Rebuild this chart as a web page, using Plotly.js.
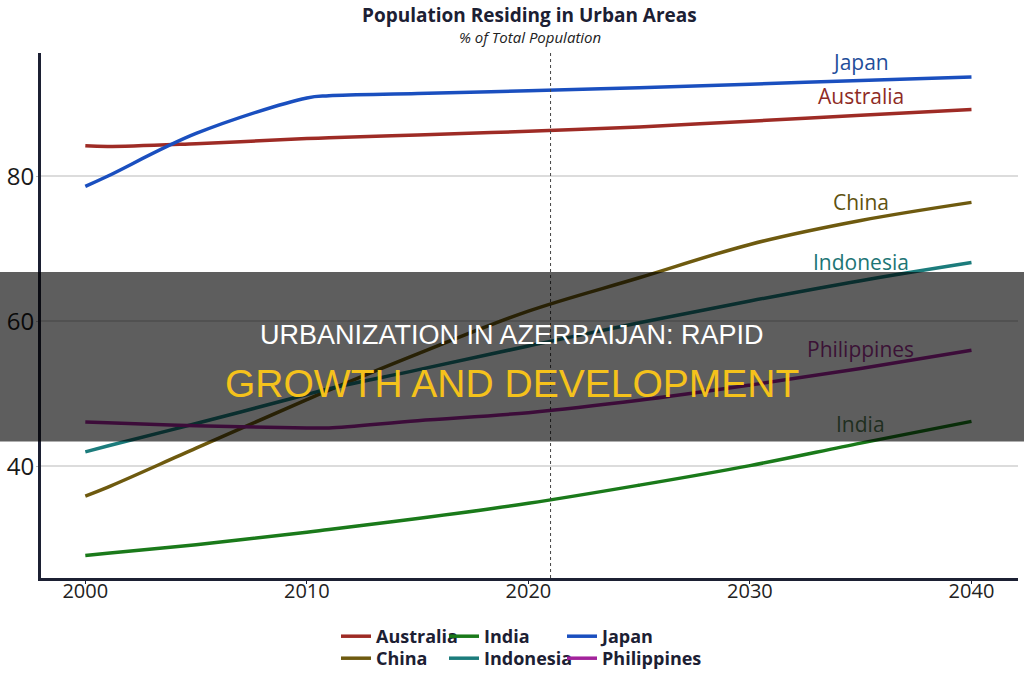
<!DOCTYPE html>
<html>
<head>
<meta charset="utf-8">
<script src="https://cdn.plot.ly/plotly-3.0.1.min.js"></script>
<style>
html,body{margin:0;padding:0;background:#fff;}
#chart{width:1024px;height:682px;}
</style>
</head>
<body>
<div id="chart"></div>
<script>
// ---- data ----
const years       = [2000, 2001, 2005, 2010, 2011, 2015, 2020, 2025, 2030, 2035, 2040];
const australia   = [84.2, 84.1, 84.5, 85.2, 85.3, 85.7, 86.2, 86.8, 87.6, 88.4, 89.2];
const china       = [35.9, 37.1, 42.5, 49.2, 50.5, 55.5, 61.4, 66.0, 70.6, 73.9, 76.4];
const india       = [27.7, 28.0, 29.2, 30.9, 31.3, 32.8, 34.9, 37.4, 40.1, 43.2, 46.2];
const indonesia   = [42.0, 42.8, 45.9, 49.9, 50.7, 53.3, 56.6, 59.8, 62.8, 65.6, 68.1];
const japan       = [78.6, 80.0, 85.9, 90.8, 91.1, 91.4, 91.8, 92.2, 92.7, 93.2, 93.7];
const philippines = [46.1, 46.0, 45.6, 45.3, 45.3, 46.3, 47.4, 49.1, 51.2, 53.5, 56.0];
const countries   = ["Australia", "China", "India", "Indonesia", "Japan", "Philippines"];
const tickYears   = [2000, 2010, 2020, 2030, 2040];
const tickValues  = [40, 60, 80];
const currentYear = 2021;
const labelYear   = 2035;
const chartTitle  = "Population Residing in Urban Areas";
const chartSubtitle = "% of Total Population";
const bannerLine1 = "URBANIZATION IN AZERBAIJAN: RAPID";
const bannerLine2 = "GROWTH AND DEVELOPMENT";

// ---- styles ----
const seriesList = [australia, china, india, indonesia, japan, philippines];
const lineColors  = ["#9e2b25", "#6e5a0f", "#1a7a1a", "#1c7c7c", "#1a4fbf", "#a3239b"];
const labelColors = ["#8e2b25", "#5e5210", "#1f2e1f", "#1d7575", "#1f4e9a", "#3b1236"];
const legendIds   = ["legend", "legend4", "legend2", "legend5", "legend3", "legend6"];
const navy = "#1c2033";

const traces = countries.map((name, i) => ({
  type: "scatter",
  mode: "lines",
  name: name,
  x: years,
  y: seriesList[i],
  line: {color: lineColors[i], width: 3.5, shape: "spline", smoothing: 1.0},
  legend: legendIds[i],
  hoverinfo: "x+y+name"
}));

const li = years.indexOf(labelYear);
const labelAnns = countries.map((name, i) => ({
  x: labelYear, y: seriesList[i][li], xref: "x", yref: "y",
  text: name, showarrow: false, yshift: 19,
  xanchor: "center", yanchor: "middle",
  font: {family: "Open Sans, Noto Sans, sans-serif", size: 21, color: labelColors[i]}
}));

const legendBase = {
  orientation: "v", xanchor: "left", yanchor: "top",
  font: {family: "Open Sans, Noto Sans, sans-serif", size: 18, color: navy, weight: 700},
  bgcolor: "rgba(0,0,0,0)", itemwidth: 30
};
function leg(px, py) {
  return Object.assign({}, legendBase, {x: (px - 41) / 977, y: (578 - py) / 525});
}

const layout = {
  width: 1024, height: 682,
  margin: {l: 41, r: 6, t: 53, b: 104, autoexpand: false},
  paper_bgcolor: "#ffffff", plot_bgcolor: "#ffffff",
  showlegend: true,
  xaxis: {
    range: [1998, 2042.1], tickvals: tickYears, ticktext: tickYears.map(String),
    showgrid: false, zeroline: false, showline: true, linecolor: navy, linewidth: 3,
    ticks: "outside", ticklen: 3, tickcolor: navy, ticklabelstandoff: -10,
    tickfont: {family: "Open Sans, Noto Sans, sans-serif", size: 20, color: "#222"}
  },
  yaxis: {
    range: [24.6, 97.0], tickvals: tickValues,
    showgrid: true, gridcolor: "#dcdcdc", gridwidth: 2, zeroline: false,
    showline: true, linecolor: navy, linewidth: 3,
    ticks: "outside", ticklen: 2, tickcolor: "#bbbbbb", ticklabelstandoff: -3,
    tickfont: {family: "Open Sans, Noto Sans, sans-serif", size: 24, color: "#1a1a1a"}
  },
  legend:  leg(336, 618),
  legend2: leg(444, 618),
  legend3: leg(562, 618),
  legend4: leg(336, 640),
  legend5: leg(444, 640),
  legend6: leg(562, 640),
  shapes: [
    {type: "line", xref: "x", yref: "paper", x0: currentYear, x1: currentYear, y0: 0, y1: 1,
     line: {color: "#444", width: 1, dash: "dot"}, layer: "above"},
    {type: "rect", xref: "paper", yref: "paper", x0: -0.1, x1: 1.1,
     y0: (578 - 441.5) / 525, y1: (578 - 272) / 525,
     fillcolor: "rgba(0,0,0,0.63)", line: {width: 0}, layer: "above"}
  ],
  annotations: [
    {xref: "paper", yref: "paper", x: 0.5, y: (578 - 15) / 525, text: "<b>" + chartTitle + "</b>",
     showarrow: false, xanchor: "center", yanchor: "middle",
     font: {family: "Open Sans, Noto Sans, sans-serif", size: 19, color: navy}},
    {xref: "paper", yref: "paper", x: 0.5, y: (578 - 37) / 525, text: "<i>" + chartSubtitle + "</i>",
     showarrow: false, xanchor: "center", yanchor: "middle",
     font: {family: "Open Sans, Noto Sans, sans-serif", size: 15, color: "#222"}},
    {xref: "paper", yref: "paper", x: (512 - 41) / 977, y: (578 - 335) / 525, text: bannerLine1,
     showarrow: false, xanchor: "center", yanchor: "middle",
     font: {family: "Liberation Sans, Arial, sans-serif", size: 27, color: "#ffffff"}},
    {xref: "paper", yref: "paper", x: (512 - 41) / 977, y: (578 - 384) / 525, text: bannerLine2,
     showarrow: false, xanchor: "center", yanchor: "middle",
     font: {family: "Liberation Sans, Arial, sans-serif", size: 39, color: "#f5c21b"}}
  ].concat(labelAnns)
};

Plotly.newPlot("chart", traces, layout, {displayModeBar: false, responsive: false});
</script>
</body>
</html>
